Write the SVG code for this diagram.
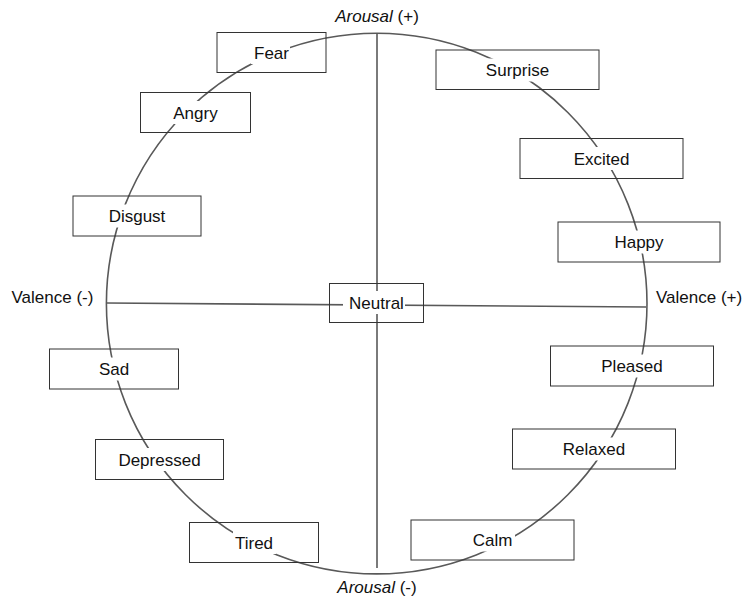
<svg xmlns="http://www.w3.org/2000/svg" width="745" height="601" viewBox="0 0 745 601">
<style>
text{font-family:"Liberation Sans",Arial,sans-serif;font-size:17px;fill:#111;text-anchor:middle}
.ax{text-anchor:start}
.box{fill:none;stroke:#333;stroke-width:1}
.bg{fill:#fff;stroke:none}
.ln{fill:none;stroke:#595959;stroke-width:1.6}
</style>
<rect width="745" height="601" fill="#fff"/>
<g id="connectors">
<circle class="ln" cx="376.7" cy="303.6" r="270.3"/>
<line class="ln" x1="377" y1="33.5" x2="377" y2="568"/>
<line class="ln" x1="107" y1="303" x2="646" y2="307"/>
</g>
<g id="axis-labels">
<text x="377" y="22"><tspan font-style="italic">Arousal</tspan> (+)</text>
<text x="377" y="593"><tspan font-style="italic">Arousal</tspan> (-)</text>
<text class="ax" x="11.5" y="303">Valence (-)</text>
<text class="ax" x="656" y="302.5">Valence (+)</text>
</g>
<g id="neutral"><rect class="box" x="329.5" y="283.5" width="94" height="39"/><rect class="bg" x="343" y="291" width="62" height="23"/><text x="376.5" y="309">Neutral</text></g>
<g id="fear"><rect class="box" x="217" y="32.5" width="109" height="40"/><rect class="bg" x="251" y="41" width="39" height="23"/><text x="271.5" y="58.5">Fear</text></g>
<g id="angry"><rect class="box" x="140.5" y="92.5" width="110" height="40"/><rect class="bg" x="171.5" y="101" width="48" height="23"/><text x="195.5" y="118.5">Angry</text></g>
<g id="disgust"><rect class="box" x="73" y="196" width="128" height="40"/><rect class="bg" x="106" y="204.5" width="61" height="23"/><text x="137" y="222">Disgust</text></g>
<g id="sad"><rect class="box" x="49.5" y="349" width="129" height="40"/><rect class="bg" x="97" y="357.5" width="34" height="23"/><text x="114" y="375">Sad</text></g>
<g id="depressed"><rect class="box" x="95.5" y="439.5" width="128" height="40"/><rect class="bg" x="117" y="448" width="86" height="23"/><text x="159.5" y="465.5">Depressed</text></g>
<g id="tired"><rect class="box" x="189.5" y="522.5" width="129" height="40"/><rect class="bg" x="233" y="531" width="43" height="23"/><text x="254" y="548.5">Tired</text></g>
<g id="calm"><rect class="box" x="411" y="520" width="163" height="40"/><rect class="bg" x="471" y="528.5" width="44" height="23"/><text x="492.5" y="546">Calm</text></g>
<g id="relaxed"><rect class="box" x="512.5" y="429" width="163" height="40"/><rect class="bg" x="561" y="437.5" width="66" height="23"/><text x="594" y="455">Relaxed</text></g>
<g id="pleased"><rect class="box" x="550.5" y="346" width="163" height="40"/><rect class="bg" x="600" y="354.5" width="65" height="23"/><text x="632" y="372">Pleased</text></g>
<g id="happy"><rect class="box" x="558" y="222" width="162" height="40"/><rect class="bg" x="614" y="230.5" width="53" height="23"/><text x="639" y="248">Happy</text></g>
<g id="excited"><rect class="box" x="520" y="138.5" width="163" height="40"/><rect class="bg" x="572" y="147" width="60" height="23"/><text x="601.5" y="164.5">Excited</text></g>
<g id="surprise"><rect class="box" x="436" y="50" width="163" height="39.5"/><rect class="bg" x="484" y="58.5" width="67" height="23"/><text x="517.5" y="76">Surprise</text></g>
</svg>
